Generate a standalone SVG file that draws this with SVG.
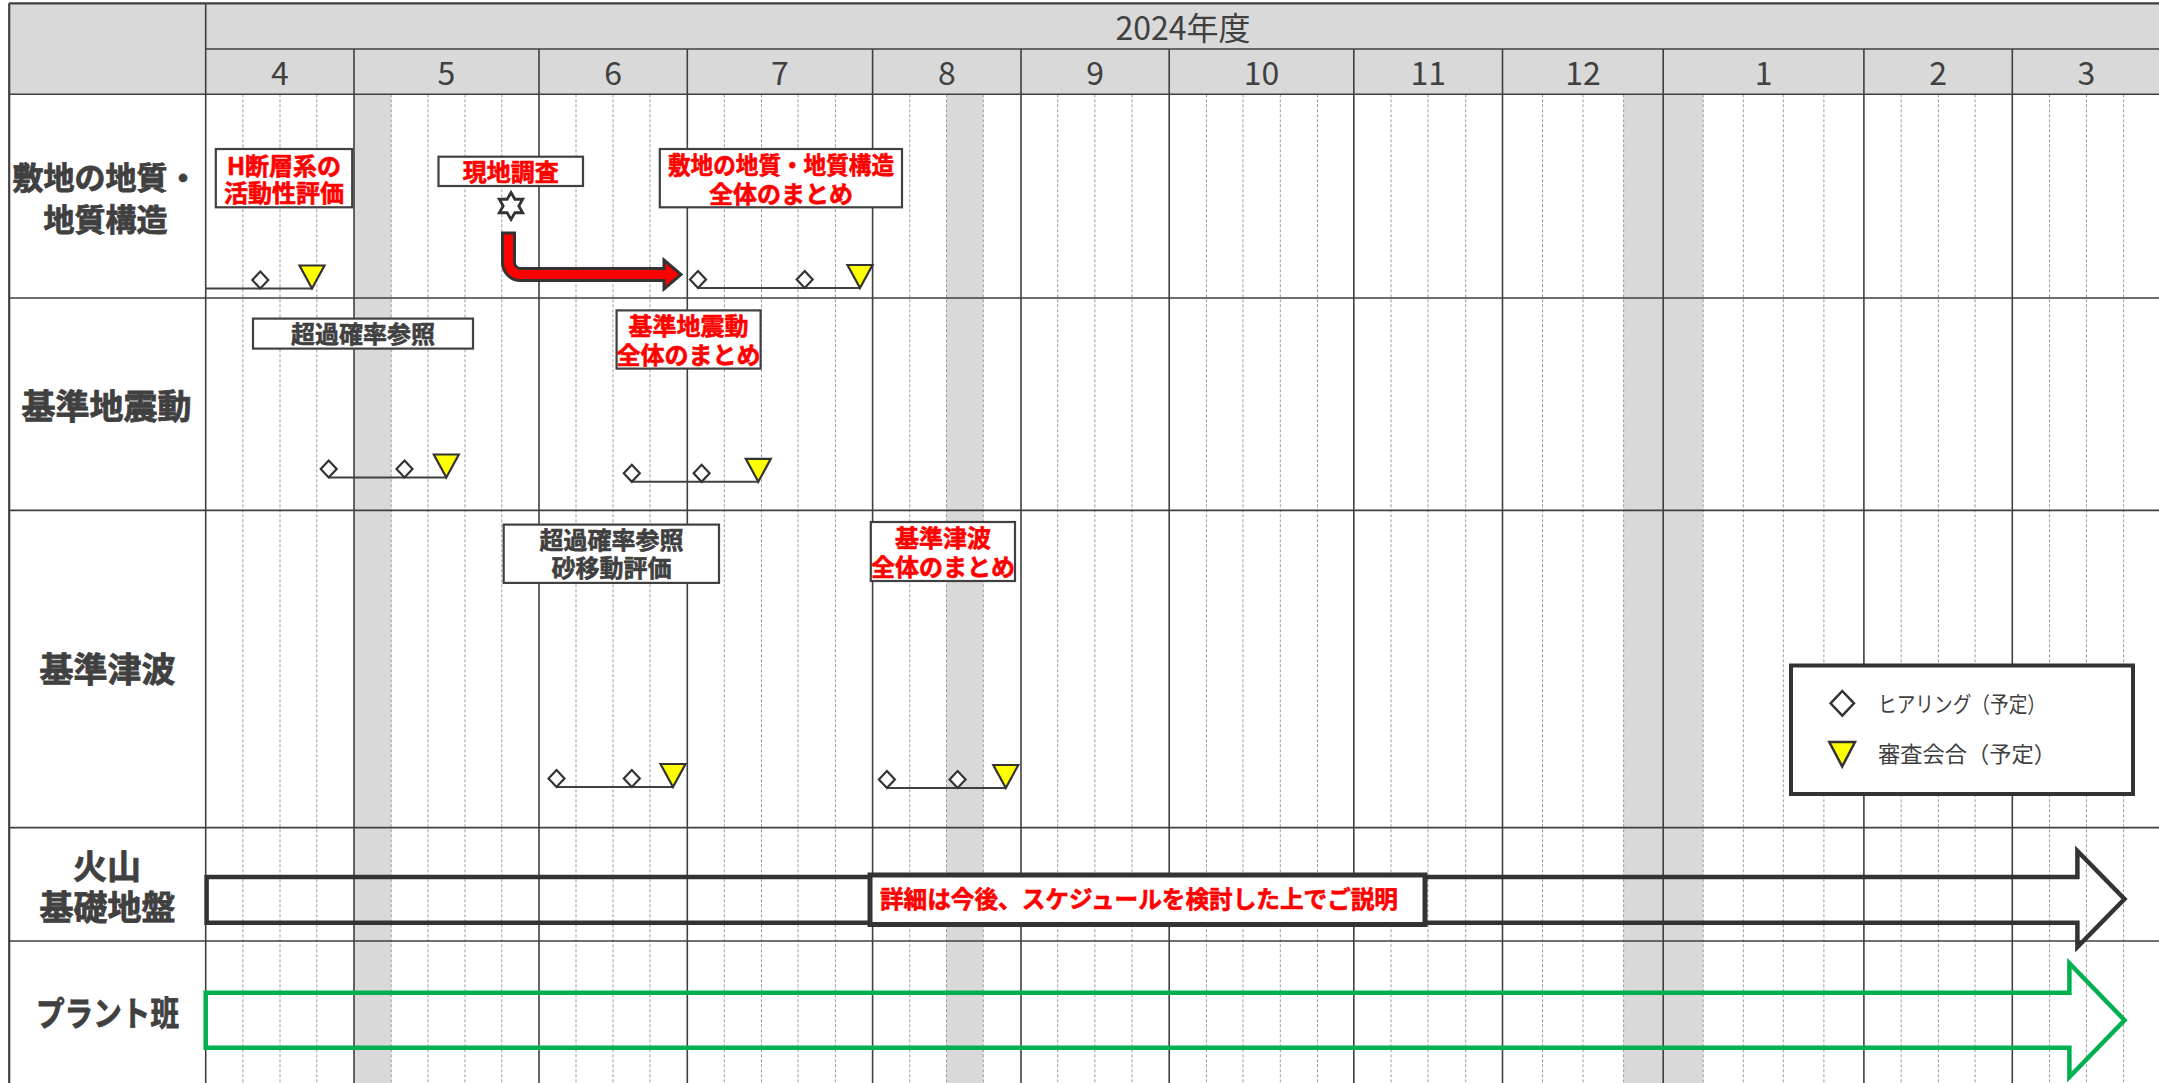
<svg xmlns="http://www.w3.org/2000/svg" xmlns:xlink="http://www.w3.org/1999/xlink" width="2159" height="1083" viewBox="0 0 2159 1083">
<style>
text{font-family:"Noto Sans CJK JP","Noto Sans",sans-serif}
.hdr{font-size:32px;fill:#404040;text-anchor:middle}
.lbl{font-weight:700;fill:#404040;stroke:#404040;stroke-width:0.8;text-anchor:middle}
.box{fill:#fff;stroke:#404040;stroke-width:2.2}
.rt{fill:#ff0000;stroke:#ff0000;stroke-width:0.6;font-weight:700;font-size:24px;text-anchor:middle}
.dt{fill:#404040;stroke:#404040;stroke-width:0.6;font-weight:700;font-size:24px;text-anchor:middle}
.wk{stroke:#9a9a9a;stroke-width:1;stroke-dasharray:3 2;fill:none}
.mo{stroke:#404040;stroke-width:1.6;fill:none}
.shade{fill:#d9d9d9}
.dia{fill:#fff;stroke:#333;stroke-width:2.2}
.tri{fill:#ffff00;stroke:#333;stroke-width:2.2;stroke-linejoin:miter}
.ms{stroke:#404040;stroke-width:2;fill:none}
.lg{font-size:22px;fill:#404040}
</style>
<defs>
<path id="dm" d="M0,-8.5 L8,0 L0,8.5 L-8,0 Z"/>
<path id="tr" d="M-12.5,-23 L12.5,-23 L0,0 Z"/>
</defs>
<rect x="0" y="0" width="2159" height="1083" fill="#fff"/>

<g id="grid">
<rect x="9.2" y="3.3" width="2150" height="91" fill="#d9d9d9"/>
<rect class="shade" x="354" y="94.3" width="37.2" height="989"/>
<rect class="shade" x="946.5" y="94.3" width="36.8" height="989"/>
<rect class="shade" x="1623.6" y="94.3" width="79.6" height="989"/>
<path class="wk" d="M242.9 94.3V1083M280 94.3V1083M316.8 94.3V1083M391.2 94.3V1083M428 94.3V1083M465 94.3V1083M501.8 94.3V1083M576 94.3V1083M613 94.3V1083M650 94.3V1083M724.3 94.3V1083M761.5 94.3V1083M798 94.3V1083M835.4 94.3V1083M909.8 94.3V1083M946.5 94.3V1083M983.3 94.3V1083M1057.7 94.3V1083M1094.9 94.3V1083M1132 94.3V1083M1206.4 94.3V1083M1243 94.3V1083M1280.3 94.3V1083M1317.5 94.3V1083M1391 94.3V1083M1428 94.3V1083M1465.7 94.3V1083M1542.5 94.3V1083M1583 94.3V1083M1623.6 94.3V1083M1703.2 94.3V1083M1743.3 94.3V1083M1783.3 94.3V1083M1823.9 94.3V1083M1901.2 94.3V1083M1938.4 94.3V1083M1975.1 94.3V1083M2049.6 94.3V1083M2086.4 94.3V1083M2123.6 94.3V1083"/>
<path class="mo" d="M205.7 3.3V1083M354 49V1083M539 49V1083M687.3 49V1083M872.6 49V1083M1021 49V1083M1169.2 49V1083M1353.8 49V1083M1502.5 49V1083M1663.2 49V1083M1863.9 49V1083M2012.3 49V1083"/>
<path class="mo" d="M205.7 49H2159M9.2 94.3H2159M9.2 298H2159M9.2 510.4H2159M9.2 827.6H2159M9.2 941H2159"/>
<path d="M9.2 3.3H2159M9.2 3.3V1083" stroke="#404040" stroke-width="2.2" fill="none"/>
<text class="hdr" x="1183" y="39.5">2024年度</text>
<text class="hdr" x="279.9" y="85">4</text>
<text class="hdr" x="446.5" y="85">5</text>
<text class="hdr" x="613.2" y="85">6</text>
<text class="hdr" x="780" y="85">7</text>
<text class="hdr" x="946.8" y="85">8</text>
<text class="hdr" x="1095.1" y="85">9</text>
<text class="hdr" x="1261.5" y="85">10</text>
<text class="hdr" x="1428.2" y="85">11</text>
<text class="hdr" x="1582.9" y="85">12</text>
<text class="hdr" x="1763.6" y="85">1</text>
<text class="hdr" x="1938.1" y="85">2</text>
<text class="hdr" x="2086.5" y="85">3</text>
</g>

<g id="row-geology">
<text class="lbl" font-size="31"><tspan x="105.6" y="188.5">敷地の地質・</tspan><tspan x="105.6" y="230.8">地質構造</tspan></text>
</g>
<g id="row-ground-motion">
<text class="lbl" x="106.4" y="419" font-size="34">基準地震動</text>
</g>
<g id="row-tsunami">
<text class="lbl" x="107.5" y="682" font-size="34">基準津波</text>
</g>
<g id="row-volcano">
<text class="lbl" font-size="34"><tspan x="107" y="879">火山</tspan><tspan x="107.5" y="920">基礎地盤</tspan></text>
</g>
<g id="row-plant">
<text class="lbl" x="107.5" y="1026" font-size="34" textLength="143" lengthAdjust="spacingAndGlyphs">プラント班</text>
</g>

<g id="connectors">
<path class="ms" d="M206 288.5H312M698 288H860M328.7 477.5H446.3M631.8 481.8H758.3M556.5 787H673M886.9 788H1005.8"/>
<path d="M502.5,233 L502.5,262.5 A18,18 0 0 0 520.5,280.5 L664,280.5 L664,289 L681,274.5 L664,260 L664,268.5 L520.5,268.5 A6,6 0 0 1 514.5,262.5 L514.5,233 Z" fill="#ff0000" stroke="#333" stroke-width="3" stroke-linejoin="miter"/>
<path id="arrow-volcano" d="M206.6,877 L2077.4,877 L2077.4,851 L2124.5,899 L2077.4,947 L2077.4,922.7 L206.6,922.7 Z" fill="none" stroke="#333" stroke-width="4.5"/>
<path id="arrow-plant" d="M205.7,992.7 L2069.4,992.7 L2069.4,963.3 L2124.5,1020.2 L2069.4,1077 L2069.4,1047.7 L205.7,1047.7 Z" fill="none" stroke="#00b050" stroke-width="4.5"/>
</g>

<g id="milestones">
<use href="#dm" xlink:href="#dm" class="dia" x="260.3" y="280"/>
<use href="#tr" xlink:href="#tr" class="tri" x="312" y="288.5"/>
<use href="#dm" xlink:href="#dm" class="dia" x="698" y="279.5"/>
<use href="#dm" xlink:href="#dm" class="dia" x="804.7" y="279.5"/>
<use href="#tr" xlink:href="#tr" class="tri" x="860" y="288"/>
<use href="#dm" xlink:href="#dm" class="dia" x="328.7" y="469"/>
<use href="#dm" xlink:href="#dm" class="dia" x="404.5" y="469"/>
<use href="#tr" xlink:href="#tr" class="tri" x="446.3" y="477.5"/>
<use href="#dm" xlink:href="#dm" class="dia" x="631.8" y="473.3"/>
<use href="#dm" xlink:href="#dm" class="dia" x="701.6" y="473.3"/>
<use href="#tr" xlink:href="#tr" class="tri" x="758.3" y="481.8"/>
<use href="#dm" xlink:href="#dm" class="dia" x="556.5" y="778.5"/>
<use href="#dm" xlink:href="#dm" class="dia" x="631.8" y="778.5"/>
<use href="#tr" xlink:href="#tr" class="tri" x="673" y="787"/>
<use href="#dm" xlink:href="#dm" class="dia" x="886.9" y="779.5"/>
<use href="#dm" xlink:href="#dm" class="dia" x="957.6" y="779.5"/>
<use href="#tr" xlink:href="#tr" class="tri" x="1005.8" y="788"/>
</g>

<g id="node-h-fault">
<rect class="box" x="215.8" y="149" width="136.4" height="58.3"/>
<text class="rt" font-size="25"><tspan x="284" y="175">H断層系の</tspan><tspan x="284" y="202">活動性評価</tspan></text>
</g>
<g id="node-field-survey">
<rect class="box" x="438.5" y="156.7" width="144.5" height="29.3"/>
<text class="rt" x="510.8" y="180.5">現地調査</text>
</g>
<g id="node-star">
<path d="M511,192.5 L514.9,199.25 L522.7,199.25 L518.8,206 L522.7,212.75 L514.9,212.75 L511,219.5 L507.1,212.75 L499.3,212.75 L503.2,206 L499.3,199.25 L507.1,199.25 Z" fill="#fff" stroke="#333" stroke-width="2.8"/>
</g>
<g id="node-geology-summary">
<rect class="box" x="659.8" y="149" width="242.2" height="58.3"/>
<text class="rt"><tspan x="781" y="174" textLength="226" lengthAdjust="spacingAndGlyphs">敷地の地質・地質構造</tspan><tspan x="781" y="203">全体のまとめ</tspan></text>
</g>
<g id="node-exceed-gm">
<rect class="box" x="253" y="318.6" width="220" height="30"/>
<text class="dt" x="363" y="342.5">超過確率参照</text>
</g>
<g id="node-gm-summary">
<rect class="box" x="616.6" y="310.4" width="144" height="58.2"/>
<text class="rt"><tspan x="688.6" y="335">基準地震動</tspan><tspan x="688.6" y="364">全体のまとめ</tspan></text>
</g>
<g id="node-exceed-ts">
<rect class="box" x="503.7" y="524.6" width="215.3" height="58.3"/>
<text class="dt"><tspan x="611.4" y="549">超過確率参照</tspan><tspan x="611.4" y="577">砂移動評価</tspan></text>
</g>
<g id="node-ts-summary">
<rect class="box" x="870.8" y="522" width="144.2" height="59"/>
<text class="rt"><tspan x="943" y="547">基準津波</tspan><tspan x="943" y="575.5">全体のまとめ</tspan></text>
</g>
<g id="node-detail">
<rect x="870" y="875" width="555" height="49.5" fill="#fff" stroke="#333" stroke-width="5"/>
<text x="880" y="908" fill="#ff0000" stroke="#ff0000" stroke-width="0.6" font-weight="700" font-size="24" textLength="518" lengthAdjust="spacingAndGlyphs">詳細は今後、スケジュールを検討した上でご説明</text>
</g>
<g id="legend">
<rect x="1791" y="665.5" width="342" height="128.5" fill="#fff" stroke="#333" stroke-width="4"/>
<path d="M1842.3,691 L1854,703.3 L1842.3,715.6 L1830.6,703.3 Z" fill="#fff" stroke="#333" stroke-width="2.5"/>
<path d="M1829.3,742 L1855,742 L1842.2,766.5 Z" fill="#ffff00" stroke="#333" stroke-width="2.5"/>
<text class="lg" x="1878" y="712" textLength="168" lengthAdjust="spacingAndGlyphs">ヒアリング（予定）</text>
<text class="lg" x="1878" y="761.5" textLength="178" lengthAdjust="spacingAndGlyphs">審査会合（予定）</text>
</g>
</svg>
